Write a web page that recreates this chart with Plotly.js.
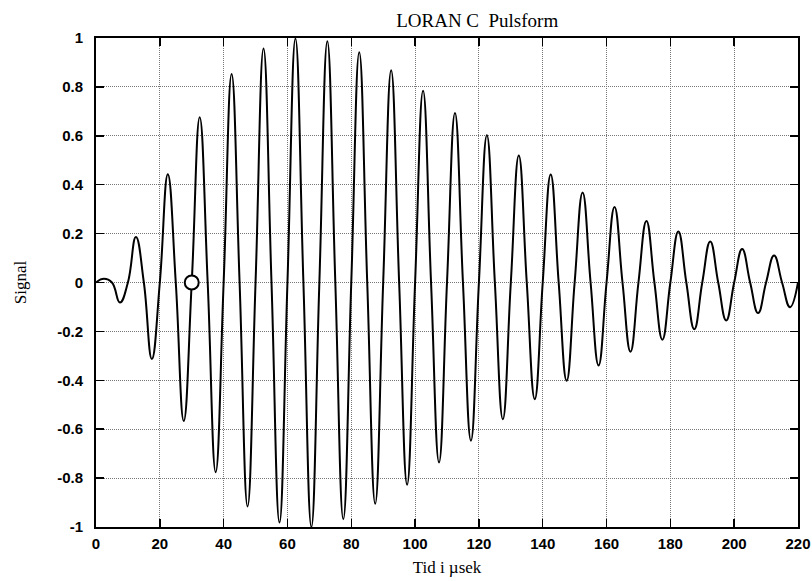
<!DOCTYPE html>
<html>
<head>
<meta charset="utf-8">
<script src="https://cdn.plot.ly/plotly-3.0.1.min.js"></script>
<style>html,body{margin:0;padding:0;background:#fff;}#chart{width:812px;height:581px;}</style>
</head>
<body>
<div id="chart"></div>
<script>
// Time (µs): zero crossings and extrema
const time = [0,2.5,5,7.5,10,12.5,15,17.5,20,22.5,25,27.5,30,32.5,35,37.5,40,42.5,45,47.5,50,52.5,55,57.5,60,62.5,65,67.5,70,72.5,75,77.5,80,82.5,85,87.5,90,92.5,95,97.5,100,102.5,105,107.5,110,112.5,115,117.5,120,122.5,125,127.5,130,132.5,135,137.5,140,142.5,145,147.5,150,152.5,155,157.5,160,162.5,165,167.5,170,172.5,175,177.5,180,182.5,185,187.5,190,192.5,195,197.5,200,202.5,205,207.5,210,212.5,215,217.5,220];
const signal = [0,0.015,0,-0.082,0,0.186,0,-0.313,0,0.443,0,-0.566,0,0.676,0,-0.776,0,0.853,0,-0.916,0,0.957,0,-0.982,0,0.998,0,-1.0,0,0.987,0,-0.968,0,0.942,0,-0.905,0,0.868,0,-0.827,0,0.784,0,-0.736,0,0.693,0,-0.647,0,0.602,0,-0.559,0,0.519,0,-0.477,0,0.442,0,-0.402,0,0.368,0,-0.339,0,0.309,0,-0.283,0,0.252,0,-0.234,0,0.209,0,-0.191,0,0.168,0,-0.155,0,0.137,0,-0.125,0,0.110,0,-0.101,0];
const markerTime = [30];
const markerSignal = [0];
const xTicks = [0,20,40,60,80,100,120,140,160,180,200,220];
const xTickText = ['0','20','40','60','80','100','120','140','160','180','200','220'];
const yTicks = [-1,-0.8,-0.6,-0.4,-0.2,0,0.2,0.4,0.6,0.8,1];
const yTickText = ['-1','-0.8','-0.6','-0.4','-0.2','0','0.2','0.4','0.6','0.8','1'];

const traces = [
  {x: time, y: signal, type: 'scatter', mode: 'lines',
   line: {color: '#000', width: 2, shape: 'spline', smoothing: 1.3}, hoverinfo: 'skip'},
  {x: markerTime, y: markerSignal, type: 'scatter', mode: 'markers',
   marker: {symbol: 'circle', size: 14, color: '#fff', line: {color: '#000', width: 2}}, hoverinfo: 'skip'}
];

const tickFont = {family: 'Liberation Sans', size: 15, color: '#000'};
const serif = 'Liberation Serif';
const bold = s => '<b>' + s + '</b>';

const layout = {
  width: 812, height: 581,
  margin: {l: 96, r: 14, t: 38, b: 54},
  paper_bgcolor: '#fff', plot_bgcolor: '#fff',
  showlegend: false,
  title: {text: 'LORAN C  Pulsform', font: {family: serif, size: 19, color: '#000'},
          x: 0.543, xref: 'paper', xanchor: 'center', y: 0.965, yanchor: 'middle'},
  xaxis: {
    range: [0, 220], tickvals: xTicks, ticktext: xTickText.map(bold),
    ticks: 'inside', ticklen: 8, tickwidth: 1.5, tickcolor: '#000',
    showline: true, linewidth: 2, linecolor: '#000', mirror: 'ticks',
    showgrid: true, gridcolor: '#777', gridwidth: 1, griddash: '1px,1px',
    zeroline: false, tickfont: tickFont, ticklabelstandoff: 2,
    title: {text: 'Tid i µsek', font: {family: serif, size: 17, color: '#000'}, standoff: 10}
  },
  yaxis: {
    range: [-1, 1], tickvals: yTicks, ticktext: yTickText.map(bold),
    ticks: 'inside', ticklen: 8, tickwidth: 1.5, tickcolor: '#000',
    showline: true, linewidth: 2, linecolor: '#000', mirror: 'ticks',
    showgrid: true, gridcolor: '#777', gridwidth: 1, griddash: '1px,1px',
    zeroline: false, tickfont: tickFont, ticklabelstandoff: 8,
    title: {text: 'Signal', font: {family: serif, size: 17, color: '#000'}, standoff: 26}
  }
};

Plotly.newPlot('chart', traces, layout, {displayModeBar: false, staticPlot: true});
</script>
</body>
</html>
